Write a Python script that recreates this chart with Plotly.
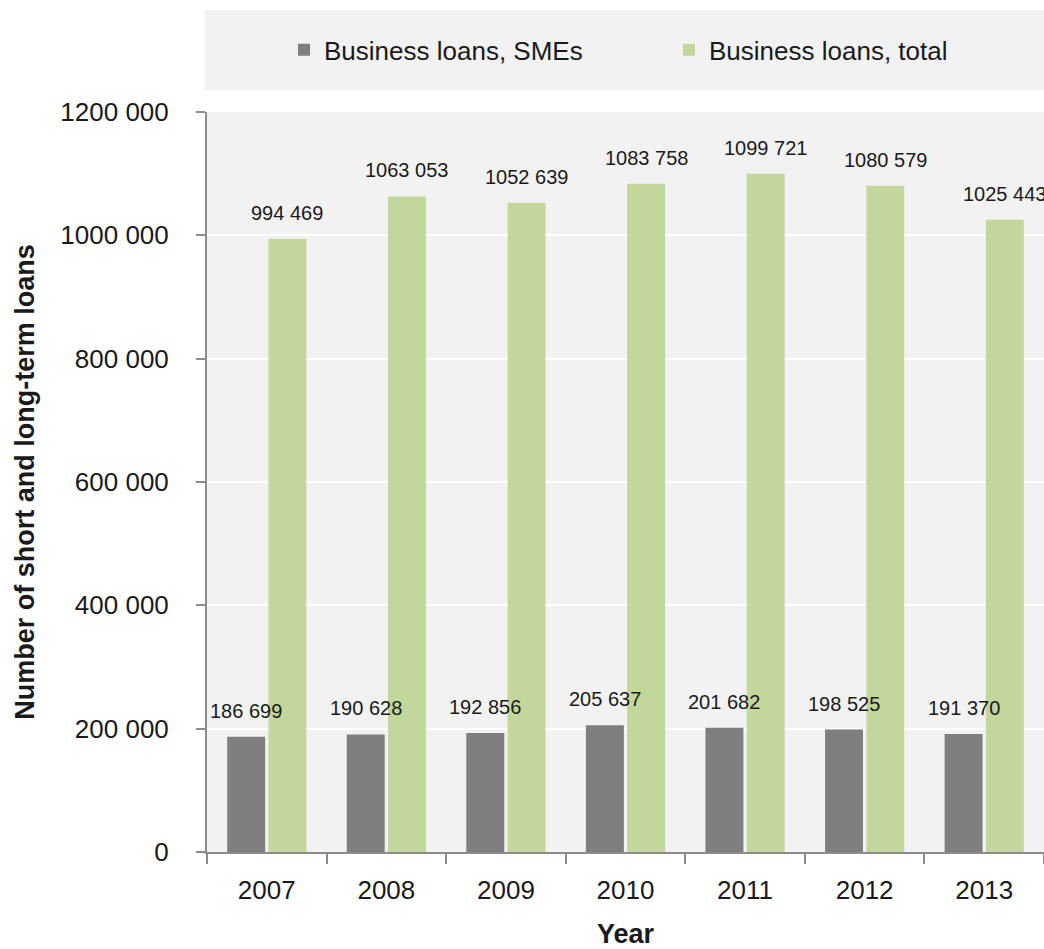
import plotly.graph_objects as go

years = ["2007", "2008", "2009", "2010", "2011", "2012", "2013"]
sme_loans = [186699, 190628, 192856, 205637, 201682, 198525, 191370]
total_loans = [994469, 1063053, 1052639, 1083758, 1099721, 1080579, 1025443]
y_tick_vals = [0, 200000, 400000, 600000, 800000, 1000000, 1200000]
y_tick_text = ["0", "200 000", "400 000", "600 000", "800 000", "1000 000", "1200 000"]

FONT = "Liberation Sans, Arial, sans-serif"
W, H = 1044, 949
ML, MR, MT, MB = 207, 0, 112, 97
BARGAP, GROUPGAP = 0.31, 0.08


def fmt(v):
    return f"{v // 1000} {v % 1000:03d}" if v >= 1000 else str(v)


fig = go.Figure()
fig.add_trace(go.Bar(x=years, y=sme_loans, name="Business loans, SMEs",
                     marker=dict(color="#7f7f7f", line=dict(width=0))))
fig.add_trace(go.Bar(x=years, y=total_loans, name="Business loans, total",
                     marker=dict(color="#c3d69b", line=dict(width=0))))

cat_w = (W - ML - MR) / len(years)
slot = (1 - BARGAP) * cat_w / 2
annotations = []
# category axes: annotation x given as the category index
for i, v in enumerate(sme_loans):
    annotations.append(dict(x=i, y=v, xref="x", yref="y", text=fmt(v), showarrow=False,
                            xshift=-slot / 2, yshift=13, yanchor="bottom",
                            font=dict(family=FONT, size=20, color="#1a1a1a")))
for i, v in enumerate(total_loans):
    annotations.append(dict(x=i, y=v, xref="x", yref="y", text=fmt(v), showarrow=False,
                            xshift=slot / 2, yshift=13, yanchor="bottom",
                            font=dict(family=FONT, size=20, color="#1a1a1a")))

fig.update_layout(
    width=W, height=H,
    margin=dict(l=ML, r=MR, t=MT, b=MB, autoexpand=False),
    paper_bgcolor="white",
    plot_bgcolor="#f2f2f2",
    barmode="group", bargap=BARGAP, bargroupgap=GROUPGAP,
    font=dict(family=FONT, size=26, color="#1a1a1a"),
    showlegend=True,
    legend=dict(orientation="h", x=0.552, xanchor="center", y=1.084, yanchor="middle",
                bgcolor="rgba(0,0,0,0)", font=dict(size=26, family=FONT),
                itemsizing="constant", itemwidth=30, tracegroupgap=0,
                entrywidth=340, entrywidthmode="pixels"),
    shapes=[dict(type="rect", xref="paper", yref="paper", x0=-0.003, x1=1.0,
                 y0=1.0297, y1=1.1378, fillcolor="#f2f2f2", line=dict(width=0),
                 layer="below")],
    annotations=annotations,
    xaxis=dict(
        type="category", range=[-0.5, len(years) - 0.5], autorange=False,
        title=dict(text="<b>Year</b>", font=dict(size=27, family=FONT), standoff=24),
        showgrid=False, showline=True, linecolor="#8c8c8c", linewidth=2,
        ticks="outside", tickson="boundaries", ticklen=10, tickcolor="#8c8c8c", tickwidth=2,
        ticklabelstandoff=14, automargin=False,
    ),
    yaxis=dict(
        title=dict(text="<b>Number of short and long-term loans</b>", font=dict(size=27, family=FONT),
                   standoff=18),
        range=[0, 1200000], autorange=False, tickvals=y_tick_vals, ticktext=y_tick_text,
        showgrid=True, gridcolor="white", gridwidth=2,
        showline=True, linecolor="#8c8c8c", linewidth=2, zeroline=False,
        ticks="outside", ticklen=9, tickcolor="#8c8c8c", tickwidth=2,
        ticklabelstandoff=22, automargin=False,
    ),
)

fig.write_html("out.html")
